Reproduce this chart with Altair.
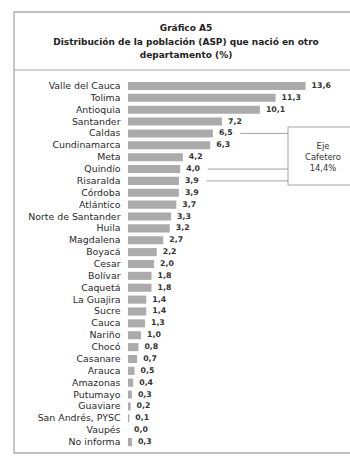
import altair as alt
import pandas as pd

departamentos = ["Valle del Cauca", "Tolima", "Antioquia", "Santander", "Caldas",
                 "Cundinamarca", "Meta", "Quindío", "Risaralda", "Córdoba", "Atlántico",
                 "Norte de Santander", "Huila", "Magdalena", "Boyacá", "Cesar", "Bolívar",
                 "Caquetá", "La Guajira", "Sucre", "Cauca", "Nariño", "Chocó", "Casanare",
                 "Arauca", "Amazonas", "Putumayo", "Guaviare", "San Andrés, PYSC", "Vaupés",
                 "No informa"]
valores = [13.6, 11.3, 10.1, 7.2, 6.5, 6.3, 4.2, 4.0, 3.9, 3.9, 3.7, 3.3, 3.2, 2.7, 2.2,
           2.0, 1.8, 1.8, 1.4, 1.4, 1.3, 1.0, 0.8, 0.7, 0.5, 0.4, 0.3, 0.2, 0.1, 0.0, 0.3]
eje_cafetero = ["Caldas", "Quindío", "Risaralda"]
eje_texto = "Eje\nCafetero\n14,4%"
titulo = "Gráfico A5\nDistribución de la población (ASP) que nació en otro\ndepartamento (%)"

df = pd.DataFrame({
    "dep": departamentos,
    "v": valores,
    "lab": [f"{v:.1f}".replace(".", ",") for v in valores],
    "eje": [d in eje_cafetero for d in departamentos],
})
df_one = pd.DataFrame({"k": [1]})

FONT = "DejaVu Sans"
y_enc = alt.Y("dep:N", sort=departamentos,
              scale=alt.Scale(paddingInner=0.32, paddingOuter=0.16),
              axis=alt.Axis(title=None, domain=False, ticks=False, labelPadding=8,
                            labelFont=FONT, labelFontSize=9.4, labelColor="#2a2a2a"))
x_scale = alt.Scale(domain=[0, 17])

base = alt.Chart(df)
bars = base.mark_bar(color="#ababab").encode(
    x=alt.X("v:Q", scale=x_scale, axis=None),
    y=y_enc,
)
labels = base.mark_text(align="left", baseline="middle", dx=6, font=FONT, fontSize=7.8,
                        fontWeight="bold", color="#333").encode(
    x=alt.X("v:Q", scale=x_scale, axis=None), y=y_enc, text="lab:N")

connectors = base.transform_filter("datum.eje").transform_calculate(
    xs="datum.v + 2.1"
).mark_rule(color="#999", strokeWidth=0.9).encode(
    x=alt.X("xs:Q", scale=x_scale, axis=None), x2=alt.value(160), y=y_enc)

frame = alt.Chart(df_one).mark_rect(fill="transparent", stroke="#aaa", strokeWidth=1.3).encode(
    x=alt.value(-114), x2=alt.value(240), y=alt.value(-68), y2=alt.value(373))
divider = alt.Chart(df_one).mark_rule(color="#aaa", strokeWidth=1).encode(
    x=alt.value(-114), x2=alt.value(240), y=alt.value(-10))
title_text = alt.Chart(df_one).mark_text(
    align="center", baseline="middle", font=FONT, fontSize=9, fontWeight="bold",
    color="#222", lineHeight=13.5, lineBreak="\n").encode(
    x=alt.value(58), y=alt.value(-52), text=alt.value(titulo))
box = alt.Chart(df_one).mark_rect(fill="white", stroke="#999", strokeWidth=0.9).encode(
    x=alt.value(160), x2=alt.value(236), y=alt.value(47), y2=alt.value(105))
box_text = alt.Chart(df_one).mark_text(
    align="center", baseline="middle", font=FONT, fontSize=8.4, color="#333",
    lineHeight=11, lineBreak="\n").encode(
    x=alt.value(195), y=alt.value(66), text=alt.value(eje_texto))

chart = alt.layer(frame, divider, title_text, connectors, box, box_text, bars, labels).properties(
    width=222, height=368,
    padding={"left": 128, "top": 80, "right": 0, "bottom": 9},
    autosize=alt.AutoSizeParams(type="none"),
).configure_view(stroke=None)

chart.save("out.html", embed_options={"renderer": "svg", "actions": False})
